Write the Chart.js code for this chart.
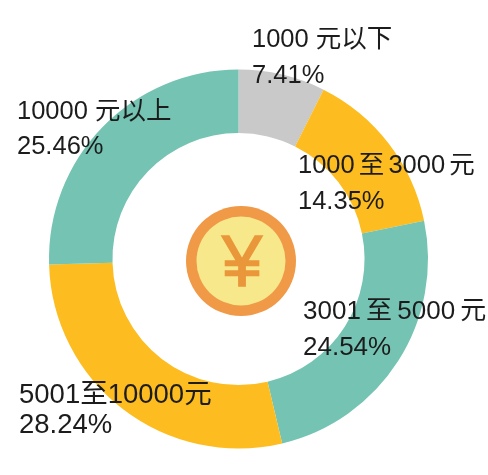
<!DOCTYPE html>
<html>
<head>
<meta charset="utf-8">
<style>
  html, body { margin: 0; padding: 0; background: #fff; }
  #wrap { position: relative; width: 488px; height: 475px; }
</style>
<script src="https://cdn.jsdelivr.net/npm/chart.js@4"></script>
</head>
<body>
<div id="wrap"><canvas id="myChart" width="488" height="475"></canvas></div>
<script>
const categories = ['1000 元以下', '1000 至 3000 元', '3001 至 5000 元', '5001至10000元', '10000 元以上'];
const shares = [7.41, 14.35, 24.54, 28.24, 25.46];
const sliceColors = ['#c9c9c9', '#fdbc20', '#75c4b3', '#fdbc20', '#75c4b3'];

// where each label sits: x, first baseline, second baseline, font size, word spacing
const labelSpots = [
    [252, 47, 83, 25.5, 0],
    [298, 173, 209, 25.5, -3],
    [303, 319, 355, 26, -2],
    [19, 403, 433, 27.5, 0],
    [17, 119, 154, 25.5, 0]
];

const coinAndLabels = {
    id: 'coinAndLabels',
    afterDatasetsDraw(chart) {
        const c = chart.ctx;
        const cx = 241, cy = 261;
        c.save();
        c.beginPath();
        c.arc(cx, cy, 55, 0, Math.PI * 2);
        c.fillStyle = '#f09a48';
        c.fill();
        c.beginPath();
        c.arc(cx, cy, 44.5, 0, Math.PI * 2);
        c.fillStyle = '#f8e88c';
        c.fill();
        c.fillStyle = '#e9973a';
        c.strokeStyle = '#e9973a';
        c.lineWidth = 1.5;
        c.font = '72px "Liberation Sans"';
        c.textAlign = 'center';
        c.textBaseline = 'alphabetic';
        c.fillText('¥', cx + 1, cy + 25);
        c.strokeText('¥', cx + 1, cy + 25);

        c.textAlign = 'left';
        c.fillStyle = '#1c1c1c';
        categories.forEach((name, i) => {
            const [x, y1, y2, size, gap] = labelSpots[i];
            c.font = size + 'px "Liberation Sans", "Noto Sans CJK SC"';
            c.wordSpacing = gap + 'px';
            c.fillText(name, x, y1);
            c.fillText(shares[i].toFixed(2) + '%', x, y2);
        });
        c.restore();
    }
};

const ctx = document.getElementById('myChart');
let myChart = new Chart(ctx, {
    type: 'doughnut',
    data: {
        labels: categories,
        datasets: [
            {
                data: shares,
                backgroundColor: sliceColors,
                borderWidth: 0
            }
        ]
    },
    options: {
        responsive: false,
        animation: false,
        cutout: '66.5%',
        layout: { padding: { left: 49, right: 60, top: 69, bottom: 26 } },
        plugins: {
            legend: { display: false },
            tooltip: { enabled: false }
        }
    },
    plugins: [coinAndLabels]
});
</script>
</body>
</html>
